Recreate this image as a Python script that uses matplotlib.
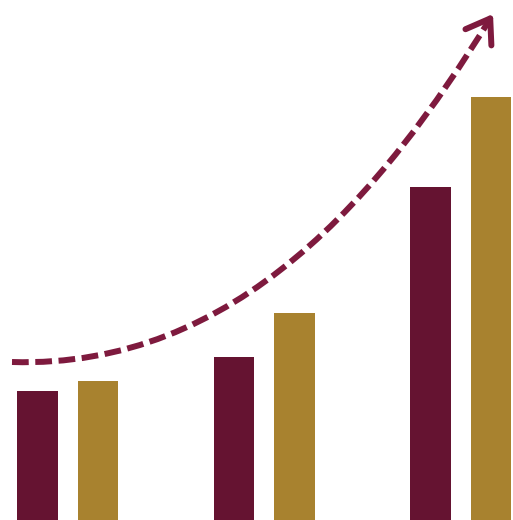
import matplotlib
matplotlib.use("Agg")
import matplotlib.pyplot as plt
from matplotlib.path import Path
from matplotlib.patches import PathPatch
import numpy as np

# Data (bar heights in pixel-like units above the baseline)
categories = ["A", "B", "C"]
series_1 = [129, 163, 333]   # maroon
series_2 = [139, 207, 423]   # gold

trend_x = [12, 50, 100, 150, 200, 250, 300, 330, 363, 397, 430, 463, 490]
trend_y_top = [362, 356, 348, 338, 323, 298, 262, 230, 193, 147, 100, 53, 19]
arrow_tip = (493, 14)

maroon = "#651331"
gold = "#A8822F"
arrow_col = "#7E1A3E"

fig = plt.figure(figsize=(5.13, 5.20), dpi=100)
ax = fig.add_axes([0, 0, 1, 1])
x = np.arange(len(categories))
w = 0.206
off = 0.154
ax.bar(x - off, series_1, width=w, color=maroon)
ax.bar(x + off, series_2, width=w, color=gold)
ax.set_xlim(-0.3446, 2.2647)
ax.set_ylim(0, 520)
ax.axis("off")

ax2 = fig.add_axes([0, 0, 1, 1])
ax2.set_xlim(0, 513)
ax2.set_ylim(0, 520)
ax2.axis("off")

# Fit a smooth cubic Bezier through the read points (decoration only)
px = np.array(trend_x, float)
py = 520 - np.array(trend_y_top, float)
P0 = np.array([px[0], py[0]])
P3 = np.array([px[-1], py[-1]])
d = np.r_[0, np.cumsum(np.hypot(np.diff(px), np.diff(py)))]
t = d / d[-1]
b0 = (1 - t) ** 3
b1 = 3 * (1 - t) ** 2 * t
b2 = 3 * (1 - t) * t ** 2
b3 = t ** 3
A = np.c_[b1, b2]
R = np.c_[px, py] - np.outer(b0, P0) - np.outer(b3, P3)
sol, *_ = np.linalg.lstsq(A, R, rcond=None)
P1, P2 = sol[0], sol[1]
path = Path([P0, P1, P2, P3], [Path.MOVETO, Path.CURVE4, Path.CURVE4, Path.CURVE4])
patch = PathPatch(path, facecolor="none", edgecolor=arrow_col, lw=4.3,
                  linestyle=(0, (2.8, 1.1)), capstyle="butt")
ax2.add_patch(patch)

tip = (arrow_tip[0], 520 - arrow_tip[1])
ax2.annotate("", xy=tip, xytext=(P3[0] - 2, P3[1] - 3),
             arrowprops=dict(arrowstyle="->,head_length=0.8,head_width=0.55",
                             color=arrow_col, lw=4.3, shrinkA=0, shrinkB=0,
                             mutation_scale=20, capstyle="round",
                             joinstyle="round"))

fig.savefig("out.png", dpi=100, facecolor="white")
